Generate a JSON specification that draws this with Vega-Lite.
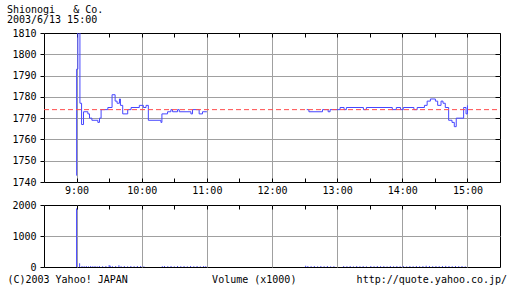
{
  "$schema": "https://vega.github.io/schema/vega-lite/v6.json",
  "padding": {"left": 6, "top": 4, "right": 5, "bottom": 3},
  "background": "white",
  "config": {
    "view": {"stroke": "black", "strokeWidth": 1, "fill": "white"},
    "font": "DejaVu Sans Mono",
    "axis": {"labelFont": "DejaVu Sans Mono", "labelFontSize": 10, "labelColor": "black", "tickColor": "black", "tickWidth": 1, "gridColor": "#a0a0a0", "gridWidth": 1, "domain": false, "title": null},
    "title": {"font": "DejaVu Sans Mono", "fontSize": 10, "fontWeight": "normal", "color": "black"}
  },
  "title": {
    "text": "(C)2003 Yahoo! JAPAN\u00a0\u00a0\u00a0\u00a0\u00a0\u00a0\u00a0\u00a0\u00a0\u00a0\u00a0\u00a0\u00a0\u00a0Volume (x1000)\u00a0\u00a0\u00a0\u00a0\u00a0\u00a0\u00a0\u00a0\u00a0\u00a0http://quote.yahoo.co.jp/",
    "orient": "bottom", "anchor": "start", "frame": "bounds", "dx": 1, "offset": 2
  },
  "datasets": {
    "price": [
      {"t": 0, "p": 1743, "s": "am"}, {"t": 0.05, "p": 1793, "s": "am"}, {"t": 1.2, "p": 1812, "s": "am"},
      {"t": 3.1, "p": 1777, "s": "am"}, {"t": 4.6, "p": 1767, "s": "am"}, {"t": 6.4, "p": 1773, "s": "am"},
      {"t": 10.4, "p": 1772, "s": "am"}, {"t": 11.9, "p": 1770, "s": "am"}, {"t": 14.1, "p": 1769, "s": "am"},
      {"t": 19.6, "p": 1768, "s": "am"}, {"t": 21.1, "p": 1770, "s": "am"}, {"t": 22.6, "p": 1774, "s": "am"},
      {"t": 28.8, "p": 1775, "s": "am"}, {"t": 32.7, "p": 1781, "s": "am"}, {"t": 35.5, "p": 1778, "s": "am"},
      {"t": 37.3, "p": 1777, "s": "am"}, {"t": 39.5, "p": 1779, "s": "am"}, {"t": 40.4, "p": 1776, "s": "am"},
      {"t": 42.5, "p": 1772, "s": "am"}, {"t": 47.1, "p": 1774, "s": "am"}, {"t": 50.2, "p": 1775, "s": "am"},
      {"t": 57.8, "p": 1776, "s": "am"}, {"t": 61.5, "p": 1775, "s": "am"}, {"t": 64, "p": 1776, "s": "am"},
      {"t": 66.1, "p": 1769, "s": "am"}, {"t": 77.7, "p": 1768, "s": "am"}, {"t": 78.6, "p": 1772, "s": "am"},
      {"t": 83.8, "p": 1773, "s": "am"}, {"t": 86.9, "p": 1774, "s": "am"}, {"t": 88.4, "p": 1773, "s": "am"},
      {"t": 93, "p": 1774, "s": "am"}, {"t": 94.6, "p": 1773, "s": "am"}, {"t": 105.3, "p": 1772, "s": "am"},
      {"t": 106.8, "p": 1774, "s": "am"}, {"t": 112.9, "p": 1772, "s": "am"}, {"t": 116, "p": 1773, "s": "am"},
      {"t": 120, "p": 1773, "s": "am"},
      {"t": 212, "p": 1774, "s": "pm"}, {"t": 214, "p": 1773, "s": "pm"}, {"t": 226.5, "p": 1774, "s": "pm"},
      {"t": 231.7, "p": 1773, "s": "pm"}, {"t": 233.5, "p": 1774, "s": "pm"}, {"t": 242.7, "p": 1775, "s": "pm"},
      {"t": 246.4, "p": 1774, "s": "pm"}, {"t": 248.5, "p": 1775, "s": "pm"}, {"t": 264.2, "p": 1774, "s": "pm"},
      {"t": 266.9, "p": 1775, "s": "pm"}, {"t": 290.8, "p": 1774, "s": "pm"}, {"t": 294.5, "p": 1775, "s": "pm"},
      {"t": 298.4, "p": 1774, "s": "pm"}, {"t": 300.9, "p": 1775, "s": "pm"}, {"t": 310.7, "p": 1774, "s": "pm"},
      {"t": 313.7, "p": 1775, "s": "pm"}, {"t": 320.4, "p": 1776, "s": "pm"}, {"t": 322.9, "p": 1778, "s": "pm"},
      {"t": 325.9, "p": 1779, "s": "pm"}, {"t": 330.5, "p": 1778, "s": "pm"}, {"t": 332.6, "p": 1776, "s": "pm"},
      {"t": 335.7, "p": 1778, "s": "pm"}, {"t": 337.5, "p": 1777, "s": "pm"}, {"t": 339.6, "p": 1775, "s": "pm"},
      {"t": 342.7, "p": 1769, "s": "pm"}, {"t": 345.8, "p": 1768, "s": "pm"}, {"t": 347.9, "p": 1766, "s": "pm"},
      {"t": 349.7, "p": 1770, "s": "pm"}, {"t": 356.5, "p": 1775, "s": "pm"}, {"t": 358.7, "p": 1772, "s": "pm"},
      {"t": 360, "p": 1776, "s": "pm"}
    ],
    "reference": [{"prev": 1774, "start": -30, "end": 390}],
    "volume": [
      {"t": 0, "v": 1890}, {"t": 2.8, "v": 120}, {"t": 5, "v": 30}, {"t": 7, "v": 25}, {"t": 9, "v": 30},
      {"t": 11, "v": 20}, {"t": 13, "v": 30}, {"t": 15, "v": 25}, {"t": 17, "v": 30}, {"t": 19, "v": 20},
      {"t": 21, "v": 30}, {"t": 24, "v": 25}, {"t": 27, "v": 30}, {"t": 30, "v": 60}, {"t": 31, "v": 40},
      {"t": 33, "v": 25}, {"t": 36, "v": 30}, {"t": 39, "v": 55}, {"t": 41, "v": 25}, {"t": 44, "v": 30},
      {"t": 47, "v": 20}, {"t": 50, "v": 30}, {"t": 53, "v": 25}, {"t": 56, "v": 30}, {"t": 59, "v": 30},
      {"t": 62, "v": 20}, {"t": 79, "v": 25}, {"t": 81, "v": 30}, {"t": 84, "v": 25}, {"t": 87, "v": 30},
      {"t": 90, "v": 20}, {"t": 93, "v": 30}, {"t": 96, "v": 25}, {"t": 99, "v": 30}, {"t": 102, "v": 20},
      {"t": 105, "v": 30}, {"t": 108, "v": 25}, {"t": 111, "v": 30}, {"t": 114, "v": 20}, {"t": 117, "v": 30},
      {"t": 119, "v": 25},
      {"t": 211, "v": 40}, {"t": 213, "v": 30}, {"t": 216, "v": 25}, {"t": 219, "v": 30}, {"t": 222, "v": 20},
      {"t": 225, "v": 30}, {"t": 228, "v": 25}, {"t": 231, "v": 30}, {"t": 234, "v": 20}, {"t": 237, "v": 25},
      {"t": 246, "v": 30}, {"t": 249, "v": 25}, {"t": 252, "v": 30}, {"t": 255, "v": 20}, {"t": 258, "v": 30},
      {"t": 261, "v": 25}, {"t": 264, "v": 30}, {"t": 267, "v": 20}, {"t": 271, "v": 30}, {"t": 274, "v": 25},
      {"t": 277, "v": 30}, {"t": 280, "v": 25}, {"t": 283, "v": 30}, {"t": 286, "v": 20}, {"t": 289, "v": 30},
      {"t": 292, "v": 25}, {"t": 295, "v": 30}, {"t": 298, "v": 25}, {"t": 301, "v": 30}, {"t": 304, "v": 20},
      {"t": 307, "v": 30}, {"t": 310, "v": 25}, {"t": 313, "v": 30}, {"t": 316, "v": 25}, {"t": 319, "v": 30},
      {"t": 322, "v": 40}, {"t": 325, "v": 30}, {"t": 328, "v": 25}, {"t": 331, "v": 30}, {"t": 334, "v": 25},
      {"t": 337, "v": 30}, {"t": 340, "v": 35}, {"t": 343, "v": 30}, {"t": 346, "v": 25}, {"t": 349, "v": 30},
      {"t": 352, "v": 25}, {"t": 355, "v": 30}, {"t": 358, "v": 20}
    ]
  },
  "spacing": 3,
  "vconcat": [
    {
      "width": 456,
      "height": 149,
      "title": {
        "text": ["Shionogi\u00a0\u00a0\u00a0&\u00a0Co.", "2003/6/13 15:00"],
        "anchor": "start", "frame": "bounds", "dx": -5, "lineHeight": 10, "offset": 3
      },
      "layer": [
        {
          "data": {"name": "price"},
          "mark": {"type": "line", "interpolate": "step-after", "color": "#4646ff", "strokeWidth": 1, "clip": true},
          "encoding": {
            "x": {
              "field": "t", "type": "quantitative",
              "scale": {"domain": [-30, 390], "nice": false, "zero": false},
              "axis": {
                "orient": "bottom",
                "values": [0, 30, 60, 90, 120, 150, 180, 210, 240, 270, 300, 330, 360],
                "labelExpr": "datum.value % 60 === 0 ? (9 + datum.value / 60) + ':00' : ''",
                "tickSize": -4, "labelPadding": 7, "grid": true,
                "gridOpacity": {"condition": {"test": "datum.value % 60 === 0", "value": 1}, "value": 0}
              }
            },
            "y": {
              "field": "p", "type": "quantitative",
              "scale": {"domain": [1740, 1810], "nice": false, "zero": false},
              "axis": {
                "orient": "left", "format": "d",
                "values": [1740, 1750, 1760, 1770, 1780, 1790, 1800, 1810],
                "tickSize": 4, "labelPadding": 4, "grid": true,
                "gridOpacity": {"condition": {"test": "datum.value > 1740 && datum.value < 1810", "value": 1}, "value": 0}
              }
            },
            "detail": {"field": "s", "type": "nominal"}
          }
        },
        {
          "data": {"name": "reference"},
          "mark": {"type": "rule", "color": "#ff4d4d", "strokeWidth": 1, "strokeDash": [5, 3]},
          "encoding": {
            "x": {
              "field": "start", "type": "quantitative",
              "scale": {"domain": [-30, 390], "nice": false, "zero": false},
              "axis": {
                "orient": "top",
                "values": [0, 30, 60, 90, 120, 150, 180, 210, 240, 270, 300, 330, 360],
                "labels": false, "tickSize": -4, "grid": false
              }
            },
            "x2": {"field": "end"},
            "y": {
              "field": "prev", "type": "quantitative",
              "scale": {"domain": [1740, 1810], "nice": false, "zero": false},
              "axis": {
                "orient": "right",
                "values": [1740, 1750, 1760, 1770, 1780, 1790, 1800, 1810],
                "labels": false, "tickSize": -5, "grid": false
              }
            }
          }
        }
      ],
      "resolve": {"axis": {"x": "independent", "y": "independent"}}
    },
    {
      "width": 456,
      "height": 62,
      "data": {"name": "volume"},
      "mark": {"type": "rule", "color": "#4646ff", "strokeWidth": 1},
      "encoding": {
        "x": {
          "field": "t", "type": "quantitative",
          "scale": {"domain": [-30, 390], "nice": false, "zero": false},
          "axis": {
            "orient": "top",
            "values": [0, 30, 60, 90, 120, 150, 180, 210, 240, 270, 300, 330, 360],
            "labels": false, "tickSize": -4, "grid": true,
            "gridOpacity": {"condition": {"test": "datum.value % 60 === 0", "value": 1}, "value": 0}
          }
        },
        "y": {
          "field": "v", "type": "quantitative",
          "scale": {"domain": [0, 2000], "nice": false},
          "axis": {
            "orient": "left", "format": "d",
            "values": [0, 1000, 2000],
            "tickSize": 4, "labelPadding": 4, "grid": true,
            "gridOpacity": {"condition": {"test": "datum.value === 1000", "value": 1}, "value": 0}
          }
        },
        "y2": {"datum": 0}
      }
    }
  ]
}
